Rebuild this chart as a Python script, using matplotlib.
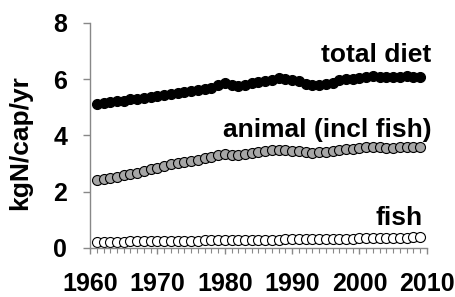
import matplotlib
matplotlib.use("Agg")
from matplotlib import pyplot as plt
from matplotlib.ticker import MultipleLocator

plt.rcParams['font.family'] = ['Liberation Sans', 'DejaVu Sans']
plt.rcParams['font.weight'] = 'bold'

years = list(range(1961, 2010))

total_diet = [5.12, 5.15, 5.18, 5.21, 5.24, 5.28, 5.31, 5.34, 5.37, 5.40,
              5.44, 5.47, 5.50, 5.54, 5.58, 5.61, 5.65, 5.70, 5.78, 5.85,
              5.80, 5.74, 5.78, 5.85, 5.90, 5.94, 5.98, 6.03, 6.00, 5.98,
              5.95, 5.83, 5.78, 5.80, 5.82, 5.85, 5.96, 6.00, 6.02, 6.04,
              6.06, 6.10, 6.08, 6.06, 6.08, 6.07, 6.10, 6.08, 6.06]

animal = [2.40, 2.45, 2.50, 2.54, 2.58, 2.63, 2.68, 2.74, 2.80, 2.86,
          2.92, 2.97, 3.02, 3.06, 3.10, 3.14, 3.19, 3.24, 3.30, 3.34,
          3.32, 3.30, 3.33, 3.38, 3.42, 3.45, 3.48, 3.50, 3.48, 3.46,
          3.44, 3.40, 3.38, 3.40, 3.42, 3.45, 3.50, 3.52, 3.53, 3.55,
          3.58, 3.60, 3.58, 3.56, 3.57, 3.58, 3.60, 3.60, 3.58]

fish = [0.22, 0.22, 0.23, 0.23, 0.23, 0.24, 0.24, 0.24, 0.25, 0.25,
        0.25, 0.25, 0.25, 0.26, 0.26, 0.26, 0.27, 0.27, 0.27, 0.28,
        0.28, 0.28, 0.28, 0.29, 0.29, 0.30, 0.30, 0.30, 0.31, 0.31,
        0.31, 0.31, 0.31, 0.32, 0.32, 0.32, 0.33, 0.33, 0.33, 0.34,
        0.34, 0.35, 0.35, 0.36, 0.36, 0.37, 0.37, 0.38, 0.38]

fig = plt.figure(figsize=(4.55, 2.97), dpi=100)
ax = fig.add_axes([0.198, 0.165, 0.740, 0.758])

ms = 7.2
ax.plot(years, total_diet, 'o', ms=ms, mfc='black', mec='black', mew=0.8)
ax.plot(years, animal, 'o', ms=ms, mfc='#a6a6a6', mec='black', mew=0.8)
ax.plot(years, fish, 'o', ms=ms, mfc='white', mec='black', mew=0.8)

fs = 19
ax.text(2010.7, 6.62, 'total diet', ha='right', va='baseline', fontsize=fs, fontweight='bold')
ax.text(2010.7, 3.95, 'animal (incl fish)', ha='right', va='baseline', fontsize=fs, fontweight='bold')
ax.text(2009.4, 0.82, 'fish', ha='right', va='baseline', fontsize=fs, fontweight='bold')

ax.set_xlim(1960, 2010)
ax.set_ylim(0, 8)
ax.set_xticks([1960, 1970, 1980, 1990, 2000, 2010])
ax.set_yticks([0, 2, 4, 6, 8])
ax.xaxis.set_minor_locator(MultipleLocator(1))
ax.set_ylabel('kgN/cap/yr', fontsize=19, fontweight='bold')
ax.yaxis.set_label_coords(-0.172, 0.47)

for s in ['top', 'right']:
    ax.spines[s].set_visible(False)
for s in ['left', 'bottom']:
    ax.spines[s].set_color('#888888')
    ax.spines[s].set_linewidth(1)
ax.tick_params(axis='both', which='major', colors='#888888', labelcolor='black',
               labelsize=18, width=1, direction='out')
ax.tick_params(axis='y', which='major', length=5, pad=11.5)
ax.tick_params(axis='x', which='major', length=4.3, pad=13)
ax.tick_params(axis='x', which='minor', colors='#888888', length=3.5, width=0.8, direction='out')
for lab in ax.get_xticklabels() + ax.get_yticklabels():
    lab.set_fontweight('bold')

fig.savefig('out.png', dpi=100)
